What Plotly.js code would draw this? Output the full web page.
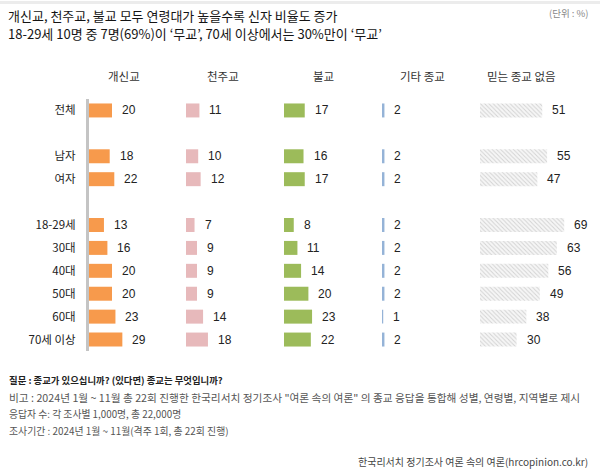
<!DOCTYPE html>
<html>
<head>
<meta charset="utf-8">
<script src="https://cdn.plot.ly/plotly-3.0.1.min.js"></script>
<style>html,body{margin:0;padding:0;background:#fff;}#chart{width:600px;height:471px;}</style>
</head>
<body>
<div id="chart"></div>
<script>
// ---- data ----
const categories = ['전체', '남자', '여자', '18-29세', '30대', '40대', '50대', '60대', '70세 이상'];
const seriesNames = ['개신교', '천주교', '불교', '기타 종교', '믿는 종교 없음'];
const protestant = [20, 18, 22, 13, 16, 20, 20, 23, 29];
const catholic   = [11, 10, 12, 7, 9, 9, 9, 14, 18];
const buddhist   = [17, 16, 17, 8, 11, 14, 20, 23, 22];
const otherRel   = [2, 2, 2, 2, 2, 2, 2, 1, 2];
const noRel      = [51, 55, 47, 69, 63, 56, 49, 38, 30];

// ---- layout helpers ----
const rowSlots = [0, 2, 3, 5, 6, 7, 8, 9, 10];
const W = 600, H = 471, TOP = 98.5, BOT = 351.5;
const px = v => v / W;
const py = v => (BOT - v) / (BOT - TOP);
const KR = "'Noto Sans CJK KR', sans-serif";
const NUM = "'Liberation Sans', 'Noto Sans CJK KR', sans-serif";

const allSeries = [protestant, catholic, buddhist, otherRel, noRel];
const colors = ['#F79A4C', '#E7B9BB', '#9CBB5A', '#95B3D7', '#f5f5f5'];
const colStart = [89, 186, 284, 382, 480];
const colWidth = 90;
const scale = [1.15, 1.22, 1.22, 1.22, 1.22];

const traces = [];
const annotations = [];
const layout = {
  width: W, height: H,
  margin: {l: 0, r: 0, t: TOP, b: H - BOT, pad: 0},
  paper_bgcolor: '#ffffff', plot_bgcolor: '#ffffff',
  showlegend: false,
  yaxis: {
    range: [10.5, -0.5],
    tickvals: rowSlots, ticktext: categories,
    showgrid: false, zeroline: false,
    showline: true, linecolor: '#c4c4c4', linewidth: 3,
    ticks: '', ticklabelstandoff: 8,
    tickfont: {family: KR, size: 11.5, color: '#222'},
    fixedrange: true
  },
  shapes: [
    {type: 'rect', xref: 'paper', yref: 'paper', x0: 0, x1: 1, y0: py(0), y1: py(3), fillcolor: '#ececec', line: {width: 0}}
  ]
};

allSeries.forEach((vals, i) => {
  const ax = i === 0 ? '' : String(i + 1);
  layout['xaxis' + ax] = {
    domain: [px(colStart[i]), px(colStart[i] + colWidth)],
    range: [0, colWidth / scale[i]],
    visible: false, anchor: 'y', fixedrange: true
  };
  const marker = {color: colors[i], line: {width: 0}};
  if (i === 4) {
    marker.pattern = {shape: '\\', fgcolor: '#d2d2d2', bgcolor: '#f6f6f6', size: 3, solidity: 0.3};
  }
  traces.push({
    type: 'bar', orientation: 'h',
    x: vals, y: rowSlots, width: 0.61,
    xaxis: 'x' + ax, yaxis: 'y',
    marker: marker, hoverinfo: 'x', name: seriesNames[i]
  });
  vals.forEach((v, k) => {
    annotations.push({
      xref: 'x' + ax, yref: 'y', x: v, y: rowSlots[k],
      text: String(v), showarrow: false, xanchor: 'left', yanchor: 'middle',
      xshift: 8, font: {family: NUM, size: 12, color: '#222'}
    });
  });
  annotations.push({
    xref: 'paper', yref: 'paper', x: px([124, 223, 323, 422, 521][i]), y: py(75),
    text: seriesNames[i], showarrow: false, xanchor: 'center', yanchor: 'middle',
    font: {family: KR, size: 11.5, color: '#333'}
  });
});

// titles and notes
const titleLines = [
  '개신교, 천주교, 불교 모두 연령대가 높을수록 신자 비율도 증가',
  '18-29세 10명 중 7명(69%)이 ‘무교’, 70세 이상에서는 30%만이 ‘무교’'
];
[14.5, 32.5].forEach((y, i) => annotations.push({
  xref: 'paper', yref: 'paper', x: px(7), y: py(y), text: titleLines[i],
  showarrow: false, xanchor: 'left', yanchor: 'middle', borderpad: 0,
  font: {family: KR, size: 13, color: '#141414'}
}));
annotations.push({
  xref: 'paper', yref: 'paper', x: px(591), y: py(12), text: '(단위 : %)',
  showarrow: false, xanchor: 'right', yanchor: 'middle',
  font: {family: KR, size: 9.5, color: '#888'}
});
const notes = [
  '질문 : 종교가 있으십니까? (있다면) 종교는 무엇입니까?',
  '비고 : 2024년 1월 ~ 11월 총 22회 진행한 한국리서치 정기조사 "여론 속의 여론" 의 종교 응답을 통합해 성별, 연령별, 지역별로 제시',
  '응답자 수: 각 조사별 1,000명, 총 22,000명',
  '조사기간 : 2024년 1월 ~ 11월(격주 1회, 총 22회 진행)'
];
const noteSizes = [9.4, 10.7, 9.8, 9.9];
[381, 398.5, 415, 432].forEach((y, i) => annotations.push({
  xref: 'paper', yref: 'paper', x: px(7), y: py(y), text: notes[i],
  showarrow: false, xanchor: 'left', yanchor: 'middle',
  font: {family: KR, size: noteSizes[i], color: i === 0 ? '#222' : '#555', weight: i === 0 ? 700 : 400}
}));
annotations.push({
  xref: 'paper', yref: 'paper', x: px(590), y: py(462),
  text: '한국리서치 정기조사 여론 속의 여론(hrcopinion.co.kr)',
  showarrow: false, xanchor: 'right', yanchor: 'middle',
  font: {family: KR, size: 10, color: '#444'}
});

layout.annotations = annotations;
Plotly.newPlot('chart', traces, layout, {displayModeBar: false, staticPlot: true});
</script>
</body>
</html>
